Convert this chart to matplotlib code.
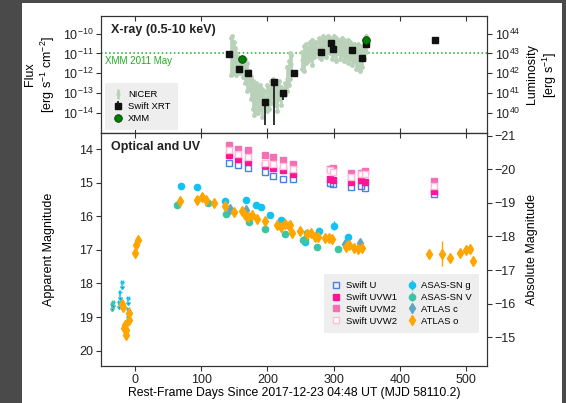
#!/usr/bin/env python3

import numpy as np
import matplotlib
matplotlib.use("Agg")
import matplotlib.pyplot as plt
from matplotlib.patches import Rectangle

plt.rcParams['font.family'] = ['Liberation Sans', 'DejaVu Sans']
plt.rcParams['mathtext.fontset'] = 'custom'
plt.rcParams['mathtext.rm'] = 'Liberation Sans'
plt.rcParams['mathtext.it'] = 'Liberation Sans:italic'

# ---- X-ray data (log10 flux, erg/s/cm2) ----
nicer_day = [145, 147, 149, 151, 153, 156, 159, 163, 166, 169, 172, 175, 178, 180, 183,
             186, 189, 192, 195, 199, 202, 205, 209, 212, 215, 218, 221, 226, 229, 232,
             234, 236, 252, 255, 258, 261, 264, 267, 270, 273, 277, 280, 283, 286, 289,
             292, 295, 298, 301, 304, 307, 310, 313, 316, 319, 322, 325, 328, 331, 334,
             337, 340, 343, 346, 349]
nicer_hi = [-10.2, -10.1, -10.4, -10.7, -11.0, -11.2, -11.4, -11.6, -11.3, -11.5, -11.9, -12.2,
            -12.4, -12.6, -12.5, -12.7, -12.6, -12.8, -12.9, -12.6, -12.7, -12.4, -12.3, -12.5,
            -12.6, -12.4, -12.7, -12.5, -11.7, -11.4, -11.0, -11.1, -10.9, -10.6, -10.5, -10.7,
            -10.4, -10.3, -10.5, -10.4, -10.2, -10.3, -10.1, -10.2, -10.3, -10.1, -10.2, -10.3,
            -10.1, -10.2, -10.3, -10.4, -10.2, -10.3, -10.5, -10.3, -10.4, -10.6, -10.5, -10.7,
            -10.5, -10.8, -10.6, -10.3, -10.1]
nicer_lo = [-12.1, -11.9, -12.0, -11.6, -12.1, -11.9, -12.0, -12.2, -12.5, -12.9, -12.8, -13.3,
            -13.8, -14.1, -13.9, -14.0, -13.8, -14.2, -13.7, -13.9, -13.8, -13.5, -13.2, -13.6,
            -13.9, -13.3, -13.6, -13.1, -12.9, -12.6, -12.3, -12.0, -11.8, -11.9, -11.5, -11.4,
            -11.3, -11.6, -11.2, -11.0, -11.2, -11.3, -11.0, -11.1, -11.2, -10.9, -11.0, -11.3,
            -11.1, -11.4, -11.0, -11.3, -11.1, -11.4, -11.2, -11.5, -11.3, -11.6, -11.4, -11.8,
            -11.7, -11.9, -11.7, -11.3, -10.9]

xrt_day = [142, 157, 171, 197, 210, 224, 240, 280, 296, 299, 328, 343, 349, 452]
xrt_logf = [-11.03, -11.78, -12.0, -13.45, -12.47, -12.98, -12.0, -10.9, -10.47, -10.76,
            -10.83, -11.25, -10.51, -10.34]
xrt_logf_low = [-11.1, -11.85, -12.08, -14.65, -14.65, -13.35, -12.08, -10.97, -10.53, -10.82,
                -10.9, -11.32, -10.57, -10.42]

xmm_day = [162, 348]
xmm_logf = [-11.27, -10.34]
xmm_2011_logf = -11.0

# ---- Optical / UV (apparent mag) ----
uvot_day = [142, 156, 170, 196, 209, 223, 238, 295, 299, 326, 341, 347, 451]
uvot_uvm2 = [13.88, 13.98, 14.03, 14.18, 14.23, 14.33, 14.45, 14.58, 14.57, 14.70, 14.70, 14.66, 14.95]
uvot_uvw2 = [14.03, 14.13, 14.23, 14.41, 14.45, 14.51, 14.58, 14.63, 14.68, 14.82, 14.73, 14.75, 15.10]
uvot_uvw1 = [14.18, 14.28, 14.38, 14.48, 14.55, 14.63, 14.74, 14.90, 14.93, 14.99, 14.93, 14.99, 15.25]
uvot_u = [14.41, 14.48, 14.56, 14.68, 14.79, 14.89, 14.90, 15.00, 15.05, 15.14, 15.09, 15.17, 15.35]

asassn_g_day = [70, 94, 136, 168, 182, 190, 204, 221, 222, 256, 259, 278, 300, 322]
asassn_g_mag = [15.10, 15.14, 15.54, 15.50, 15.67, 15.72, 15.96, 16.11, 16.13, 16.76, 16.49,
                16.44, 16.28, 16.63]
asassn_g_err = [0.04, 0.04, 0.04, 0.04, 0.04, 0.04, 0.04, 0.04, 0.04, 0.05, 0.05, 0.05, 0.14, 0.06]
asassn_g_lim_day = [-24, -23, -19, -11, -10, -10]
asassn_g_lim_mag = [18.56, 18.27, 17.95, 19.0, 18.44, 18.77]

asassn_v_day = [64, 111, 137, 172, 197, 226, 254, 256, 275, 307]
asassn_v_mag = [15.65, 15.59, 15.94, 16.18, 16.37, 16.53, 16.71, 16.68, 16.91, 16.98]
asassn_v_lim_day = [-35, -33]
asassn_v_lim_mag = [18.62, 18.55]

atlas_c_day = [143, 167, 317, 339]
atlas_c_mag = [15.79, 15.80, 16.83, 16.80]
atlas_c_err = [0.05, 0.05, 0.12, 0.10]

atlas_o_day = [-18.6, -17.6, -16.6, -15, -14, -14, -9, -9, 0, 1.5, 5, 68, 94.5, 102, 108,
               119.6, 135.7, 149, 161, 166, 171, 176, 183.5, 197, 213.7, 220, 226, 232.7,
               234, 237, 249, 260, 265, 271.5, 276.5, 286.6, 293, 298, 318, 323, 330, 337,
               343, 444, 463.5, 475, 490, 499, 506, 510]
atlas_o_mag = [18.6, 18.7, 19.34, 19.24, 19.39, 19.53, 18.89, 19.09, 17.1, 16.86, 16.71,
               15.55, 15.5, 15.42, 15.52, 15.6, 15.70, 15.87, 15.85, 15.96, 16.03, 15.96,
               16.09, 16.14, 16.26, 16.31, 16.24, 16.29, 16.26, 16.49, 16.44, 16.54, 16.49,
               16.61, 16.61, 16.64, 16.66, 16.69, 16.91, 16.86, 16.93, 16.96, 16.93, 17.13,
               17.12, 17.23, 17.09, 16.99, 16.98, 17.32]
atlas_o_err = [0.08, 0.08, 0.1, 0.1, 0.1, 0.1, 0.1, 0.1, 0.07, 0.07, 0.07, 0.05, 0.05, 0.05,
               0.05, 0.05, 0.05, 0.05, 0.05, 0.05, 0.05, 0.05, 0.05, 0.05, 0.05, 0.05, 0.05,
               0.05, 0.05, 0.05, 0.05, 0.05, 0.05, 0.05, 0.05, 0.05, 0.05, 0.05, 0.05, 0.05,
               0.05, 0.05, 0.05, 0.08, 0.37, 0.08, 0.07, 0.06, 0.06, 0.08]

dist_mod = 34.6
lum_factor = 1e54

fig = plt.figure(figsize=(5.66, 4.03), dpi=100, facecolor='#4a4a4a')
fig.add_artist(Rectangle((22 / 566, 0), 540 / 566, 400 / 403, transform=fig.transFigure,
                         facecolor='white', edgecolor='none', zorder=0))

ax_x = fig.add_axes([0.1784, 0.670, 0.682, 0.2903])
ax_o = fig.add_axes([0.1784, 0.0918, 0.682, 0.578], sharex=ax_x)

# ---- X-ray panel ----
nicer_col = '#b8d1b8'
nicer_mid = [(a + b) / 2 for a, b in zip(nicer_hi, nicer_lo)]
nicer_f = 10 ** np.array(nicer_mid)
ax_x.errorbar(nicer_day, nicer_f,
              yerr=[nicer_f - 10 ** np.array(nicer_lo), 10 ** np.array(nicer_hi) - nicer_f],
              fmt='o', ms=2, color=nicer_col, ecolor=nicer_col, elinewidth=1.9, capsize=0,
              label='NICER', zorder=2)
ax_x.plot(nicer_day, 10 ** np.array(nicer_hi), 'o', ms=2.5, color=nicer_col, zorder=2)
ax_x.plot(nicer_day, 10 ** np.array(nicer_lo), 'o', ms=2.5, color=nicer_col, zorder=2)
xrt_f = 10 ** np.array(xrt_logf)
ax_x.errorbar(xrt_day, xrt_f, yerr=[xrt_f - 10 ** np.array(xrt_logf_low), 0.15 * xrt_f],
              fmt='s', ms=5, color='#111111', ecolor='#111111', elinewidth=1.2, capsize=0,
              label='Swift XRT', zorder=4)
ax_x.errorbar(xmm_day, 10 ** np.array(xmm_logf), fmt='o', ms=5.5, color='green',
              mec='#0a3a0a', mew=0.6, label='XMM', zorder=5)
ax_x.axhline(10 ** xmm_2011_logf, color='#22aa22', ls=':', lw=1.1, zorder=1)
ax_x.text(-45, 10 ** (xmm_2011_logf - 0.12), 'XMM 2011 May', color='#22aa22',
          fontsize=7, va='top', ha='left')
ax_x.text(0.025, 0.93, 'X-ray (0.5-10 keV)', transform=ax_x.transAxes, fontsize=9,
          fontweight='bold', va='top', color='#222222')
ax_x.set_yscale('log')
ylim_x = (10 ** -15.03, 10 ** -9.1)
ax_x.set_ylim(ylim_x)
ax_x.set_yticks([1e-10, 1e-11, 1e-12, 1e-13, 1e-14])
ax_x.minorticks_off()
ax_x.set_ylabel('Flux\n[erg s$^{-1}$ cm$^{-2}$]', fontsize=9)
ax_x.tick_params(axis='x', direction='in', top=True, bottom=True, labelbottom=False)
ax_x.tick_params(axis='y', direction='out', labelsize=9, pad=2)
leg = ax_x.legend(loc='lower left', fontsize=6.8, frameon=True, facecolor='#eeeeee',
                  edgecolor='none', framealpha=1, handletextpad=0.4, borderpad=0.45,
                  labelspacing=0.3, handlelength=1.3, bbox_to_anchor=(0.005, 0.01))
leg.get_frame().set_boxstyle('square')

ax_l = ax_x.twinx()
ax_l.set_yscale('log')
ax_l.set_ylim(ylim_x[0] * lum_factor, ylim_x[1] * lum_factor)
ax_l.set_yticks([1e44, 1e43, 1e42, 1e41, 1e40])
ax_l.minorticks_off()
ax_l.tick_params(axis='y', labelsize=9, pad=2)
ax_l.set_ylabel('Luminosity\n[erg s$^{-1}$]', fontsize=9)

# ---- Optical / UV panel ----
ax_o.plot(uvot_day, uvot_u, 's', ms=4.3, mfc='none', mec='#4a7fe8', mew=1.0, label='Swift U', zorder=3)
ax_o.plot(uvot_day, uvot_uvw1, 's', ms=4.3, color='#ff1493', label='Swift UVW1', zorder=3)
ax_o.plot(uvot_day, uvot_uvm2, 's', ms=4.3, color='#f56fb5', label='Swift UVM2', zorder=3)
ax_o.plot(uvot_day, uvot_uvw2, 's', ms=4.3, mfc='white', mec='#ffbcd9', mew=1.0, label='Swift UVW2', zorder=3)

ylim_o = (20.46, 13.52)
ax_o.set_ylim(ylim_o)
ax_o.errorbar(asassn_g_day, asassn_g_mag, yerr=asassn_g_err, fmt='o', ms=4.5, color='#12c3f2',
              elinewidth=1, capsize=0, label='ASAS-SN g', zorder=3)
ax_o.errorbar(asassn_g_lim_day, asassn_g_lim_mag, xerr=1.3, yerr=0.12, lolims=True, fmt='none',
              ecolor='#12c3f2', elinewidth=1.1, capsize=1.5, zorder=3)
ax_o.errorbar(asassn_v_day, asassn_v_mag, yerr=0.04, fmt='o', ms=4.5, color='#3cc4a6',
              elinewidth=1, capsize=0, label='ASAS-SN V', zorder=3)
ax_o.errorbar(asassn_v_lim_day, asassn_v_lim_mag, xerr=1.3, yerr=0.1, lolims=True, fmt='none',
              ecolor='#3cc4a6', elinewidth=1.1, capsize=1.5, zorder=3)
ax_o.errorbar(atlas_c_day, atlas_c_mag, yerr=atlas_c_err, fmt='d', ms=5.5, color='#5da6c6',
              elinewidth=1, capsize=0, label='ATLAS c', zorder=3)
ax_o.errorbar(atlas_o_day, atlas_o_mag, yerr=atlas_o_err, fmt='d', ms=5.5, color='#ffa500',
              elinewidth=1, capsize=0, label='ATLAS o', zorder=4)
ax_o.set_ylim(ylim_o)
ax_o.set_yticks([14, 15, 16, 17, 18, 19, 20])
ax_o.set_xlim(-51, 531)
ax_o.set_xticks([0, 100, 200, 300, 400, 500])
ax_o.tick_params(axis='x', direction='out', labelsize=9, pad=2)
ax_o.tick_params(axis='x', which='both', top=True)
ax_o.tick_params(axis='y', labelsize=9, pad=2)
ax_o.set_ylabel('Apparent Magnitude', fontsize=9)
ax_o.yaxis.set_label_coords(-0.12, 0.5)
ax_o.set_xlabel('Rest-Frame Days Since 2017-12-23 04:48 UT (MJD 58110.2)', fontsize=8.8,
                labelpad=1)
ax_o.text(0.025, 0.965, 'Optical and UV', transform=ax_o.transAxes, fontsize=9,
          fontweight='bold', va='top', color='#222222')
leg2 = ax_o.legend(loc='lower right', ncol=2, fontsize=6.8, frameon=True, facecolor='#eeeeee',
                   edgecolor='none', framealpha=1, handletextpad=0.4, borderpad=0.45,
                   labelspacing=0.3, columnspacing=1.0, handlelength=1.2,
                   bbox_to_anchor=(0.985, 0.135))
leg2.get_frame().set_boxstyle('square')

ax_a = ax_o.twinx()
ax_a.set_ylim(ylim_o[0] - dist_mod, ylim_o[1] - dist_mod)
ax_a.set_yticks([-21, -20, -19, -18, -17, -16, -15])
ax_a.set_yticklabels(['\u221221', '\u221220', '\u221219', '\u221218', '\u221217', '\u221216', '\u221215'])
ax_a.tick_params(axis='y', labelsize=9, pad=2)
ax_a.set_ylabel('Absolute Magnitude', fontsize=9)
ax_a.yaxis.set_label_coords(1.10, 0.5)

# top ticks of the optical panel point inwards
ax_o.xaxis.set_tick_params(which='major', top=True)
for t in ax_o.xaxis.get_major_ticks():
    t.tick2line.set_marker(3)

for a in (ax_x, ax_o, ax_l, ax_a):
    for s in a.spines.values():
        s.set_color('#333333')
    a.tick_params(colors='#333333', labelcolor='#222222')

plt.savefig('out.png', dpi=100, facecolor=fig.get_facecolor())
